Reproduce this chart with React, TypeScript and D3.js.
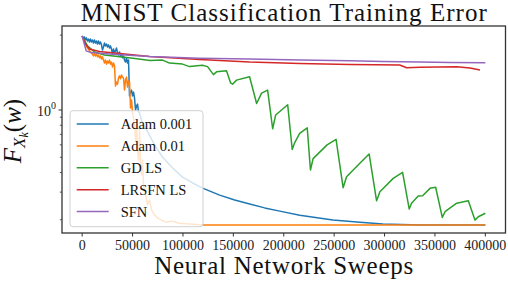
import * as d3 from "d3";

type Pt = [number, number];

// sweeps, training error
const adam001: Pt[] = [
  [0, 2.96], [1290, 2.83], [2280, 2.92], [3280, 2.79], [4270, 2.88], [5270, 2.75], [6260, 2.83], [7250, 2.71],
  [8250, 2.83], [9240, 2.71], [10230, 2.79], [11230, 2.67], [12220, 2.79], [13210, 2.67], [14210, 2.75], [15200, 2.63],
  [16190, 2.75], [17190, 2.63], [18180, 2.71], [19170, 2.6], [20170, 2.41], [21160, 2.52], [22150, 2.67], [23150, 2.56],
  [24140, 2.63], [25140, 2.52], [26130, 2.6], [27120, 2.48], [28120, 2.56], [29110, 2.45], [30100, 2.27], [31100, 2.45],
  [32090, 2.31], [33080, 2.38], [34080, 2.48], [35070, 2.31], [36060, 2.24], [37060, 2.34], [38050, 2.21], [39050, 2.27],
  [40040, 2.15], [41030, 2.21], [42030, 2.08], [43020, 2.02], [44010, 2.15], [45010, 1.99], [46000, 2.08], [46990, 1.23],
  [47990, 1.3], [48980, 1.34], [49970, 1.23], [50970, 1.3], [51960, 1.19], [52960, 1.0], [53950, 1.06], [54940, 1.09],
  [55940, 0.97], [56930, 0.96], [58920, 0.86], [60910, 0.8], [63890, 0.75], [71840, 0.6], [79780, 0.5], [89720, 0.427],
  [99650, 0.374], [109600, 0.343], [119500, 0.318], [136400, 0.287], [151300, 0.267], [166200, 0.252], [181100, 0.238],
  [196100, 0.227], [215900, 0.214], [248700, 0.199], [275500, 0.193], [298400, 0.188], [335100, 0.185], [400000, 0.185],
];

const adam01: Pt[] = [
  [0, 2.96], [2280, 2.71], [5270, 2.48], [8250, 2.34], [10230, 2.27], [11230, 2.21], [12220, 2.31], [13210, 2.21],
  [14210, 2.27], [15200, 2.18], [16190, 2.24], [17190, 2.15], [18180, 2.21], [19170, 2.11], [20170, 2.18], [21160, 2.08],
  [22150, 1.99], [23150, 2.08], [24140, 1.96], [25140, 2.05], [26130, 1.99], [27120, 2.08], [28120, 1.96], [29110, 2.02],
  [30100, 1.88], [31100, 1.99], [32090, 1.91], [33080, 1.42], [34080, 1.51], [35070, 1.46], [36060, 1.6], [37060, 1.65],
  [38050, 1.58], [39050, 1.67], [40040, 1.62], [41030, 1.6], [42030, 1.34], [43020, 1.55], [44010, 1.62], [45010, 1.4],
  [46000, 1.53], [46990, 1.51], [47990, 1.03], [48980, 1.16], [49970, 0.97], [50970, 0.89], [51960, 0.8], [52960, 0.64],
  [53950, 0.77], [54940, 0.56], [55940, 0.48], [56930, 0.75], [57920, 0.45], [58920, 0.385], [59910, 0.48], [60910, 0.333],
  [62900, 0.287], [64880, 0.248], [66860, 0.267], [68850, 0.231], [71830, 0.214], [74810, 0.205], [78790, 0.199],
  [82760, 0.193], [88720, 0.196], [96670, 0.19], [106600, 0.188], [119500, 0.185], [400000, 0.185],
];

const gdLs: Pt[] = [
  [0, 2.96], [5270, 2.56], [12220, 2.34], [22150, 2.24], [37460, 2.18], [52360, 2.13], [67270, 2.07], [79780, 2.08],
  [86640, 1.99], [99550, 1.96], [106500, 1.89], [119400, 1.93], [124400, 1.89], [130300, 1.68], [133300, 1.75],
  [143200, 1.78], [147200, 1.49], [149200, 1.46], [153200, 1.55], [166100, 1.63], [173100, 1.1], [178000, 1.28],
  [184000, 1.34], [189000, 0.76], [192000, 0.93], [203900, 1.08], [208400, 0.56], [210900, 0.62], [215800, 0.71],
  [223300, 0.77], [226500, 0.415], [229100, 0.49], [243000, 0.6], [251900, 0.65], [258900, 0.32], [262300, 0.376],
  [275500, 0.458], [284700, 0.525], [292100, 0.264], [295400, 0.302], [308600, 0.367], [317900, 0.401], [324500, 0.234],
  [326800, 0.255], [333400, 0.283], [337800, 0.284], [345100, 0.317], [350700, 0.322], [357300, 0.207], [360000, 0.225],
  [371600, 0.255], [383100, 0.264], [389700, 0.199], [393000, 0.209], [400000, 0.22],
];

const lrsfnLs: Pt[] = [
  [0, 2.96], [3300, 2.63], [7250, 2.45], [17200, 2.36], [37060, 2.29], [66860, 2.19], [116500, 2.1], [166200, 2.02],
  [215900, 1.98], [265600, 1.95], [315000, 1.935], [321900, 1.86], [335100, 1.87], [371600, 1.887], [384800, 1.85],
  [394700, 1.8],
];

const sfn: Pt[] = [
  [0, 2.96], [3970, 2.38], [8940, 2.32], [27120, 2.27], [66860, 2.19], [116500, 2.14], [166200, 2.11], [215900, 2.08],
  [265600, 2.06], [298400, 2.04], [335100, 2.02], [364900, 2.01], [400000, 2.0],
];

const seriesNames = ["Adam 0.001", "Adam 0.01", "GD LS", "LRSFN LS", "SFN"];
const seriesColors = ["#1f77b4", "#ff7f0e", "#2ca02c", "#d62728", "#9467bd"];
const seriesData = [adam001, adam01, gdLs, lrsfnLs, sfn];

const sweepTicks = [0, 50000, 100000, 150000, 200000, 250000, 300000, 350000, 400000];
const minorErrTicks = [0.2, 0.3, 0.4, 0.5, 0.6, 0.7, 0.8, 0.9, 2, 3];

const FONT = "Liberation Serif, DejaVu Serif, serif";
const left = 62, right = 505.5, top = 26, bottom = 233;

export default function App() {
  const x = d3.scaleLinear().domain([-20000, 420000]).range([left, right]);
  const y = d3.scaleLog().domain([0.1647, 3.428]).range([bottom, top]);
  const line = d3.line<Pt>().x(d => x(d[0])).y(d => y(d[1]));

  const legX = 70, legY = 110.7, rowH = 21.9;

  return (
    <svg width={508} height={282} style={{ position: "absolute", left: 0, top: 0, fontFamily: FONT }}>
      <rect width={508} height={282} fill="white" />
      <defs>
        <clipPath id="plot">
          <rect x={left} y={top} width={right - left} height={bottom - top} />
        </clipPath>
      </defs>

      <g clipPath="url(#plot)" fill="none" strokeWidth={1.5} strokeLinejoin="round">
        {seriesData.map((d, i) => (
          <path key={i} d={line(d) || ""} stroke={seriesColors[i]} />
        ))}
      </g>

      {/* x ticks */}
      {sweepTicks.map(t => (
        <g key={t}>
          <line x1={x(t)} x2={x(t)} y1={bottom} y2={bottom + 3.5} stroke="#333" strokeWidth={1} />
          <text x={x(t)} y={250} textAnchor="middle" fontSize={14} fontFamily={FONT} fill="#222">{t}</text>
        </g>
      ))}

      {/* y ticks */}
      {minorErrTicks.map(t => (
        <line key={t} x1={left - 2.2} x2={left} y1={y(t)} y2={y(t)} stroke="#333" strokeWidth={0.8} />
      ))}
      <line x1={left - 3.5} x2={left} y1={y(1)} y2={y(1)} stroke="#333" strokeWidth={1} />
      <text x={51} y={y(1) + 5.5} textAnchor="end" fontSize={14} fontFamily={FONT} fill="#222">10</text>
      <text x={51} y={y(1) - 1} fontSize={10} fontFamily={FONT} fill="#222">0</text>

      {/* frame */}
      <rect x={left} y={top} width={right - left} height={bottom - top} fill="none" stroke="#333" strokeWidth={1.3} />

      {/* legend */}
      <rect x={legX} y={legY} width={133} height={116} rx={3} fill="white" fillOpacity={0.8} stroke="#d0d0d0" strokeWidth={1} />
      {seriesNames.map((n, i) => (
        <g key={n}>
          <line x1={76.7} x2={108.7} y1={legY + 13.3 + i * rowH} y2={legY + 13.3 + i * rowH} stroke={seriesColors[i]} strokeWidth={1.5} />
          <text x={120.7} y={legY + 13.3 + i * rowH + 5} fontSize={14.5} fontFamily={FONT} fill="#111">{n}</text>
        </g>
      ))}

      {/* title and axis labels */}
      <text x={(left + right) / 2} y={20.5} textAnchor="middle" fontSize={25} fontFamily={FONT} textLength={406} lengthAdjust="spacing" fill="#111">
        MNIST Classification Training Error
      </text>
      <text x={(left + right) / 2} y={274} textAnchor="middle" fontSize={25} fontFamily={FONT} textLength={259} lengthAdjust="spacing" fill="#111">
        Neural Network Sweeps
      </text>
      <text transform="translate(21,131) rotate(-90)" textAnchor="middle" fontSize={25} fontFamily={FONT} fill="#111">
        <tspan fontStyle="italic">F</tspan>
        <tspan fontStyle="italic" fontSize={17} dy={4}>X</tspan>
        <tspan fontStyle="italic" fontSize={12} dy={3}>k</tspan>
        <tspan dy={-7}>(</tspan>
        <tspan fontStyle="italic">w</tspan>
        <tspan>)</tspan>
      </text>
    </svg>
  );
}
